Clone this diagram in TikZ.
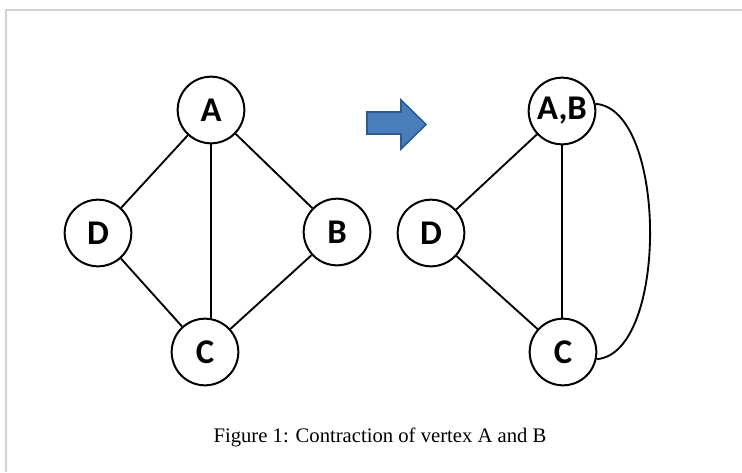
\documentclass[tikz,border=0pt]{standalone}
\usepackage{fontspec}
\setmainfont{Liberation Serif}
\newfontfamily\vertexfont{Carlito}
\definecolor{framegray}{HTML}{D2D2D2}
\definecolor{arrowfill}{HTML}{4A7EBB}
\definecolor{arrowedge}{HTML}{2F5A8F}
\tikzset{
  vertex/.style={circle, draw=black, line width=1.5pt, minimum size=50pt,
    inner sep=0pt, fill=white, font=\vertexfont\bfseries\fontsize{26}{26}\selectfont},
  edge/.style={draw=black, line width=1.4pt},
}
\begin{document}
\begin{tikzpicture}[x=0.75pt,y=-0.75pt]
  \useasboundingbox (0,0) rectangle (742,472);
  \fill[white] (0,0) rectangle (742,472);
  % frame lines at the top and left
  \draw[framegray, line width=1.5pt] (6,472) -- (6,10) -- (742,10);

  % graph before contraction
  \node[vertex] (A) at (211,110) {A};
  \node[vertex] (D) at (98,233) {D};
  \node[vertex] (B) at (337,232) {B};
  \node[vertex] (C) at (205,352) {C};
  \draw[edge] (A) -- (D);
  \draw[edge] (A) -- (B);
  \draw[edge] (A.south) -- (C.north -| A.south);
  \draw[edge] (D) -- (C);
  \draw[edge] (B) -- (C);

  % block arrow
  \draw[draw=arrowedge, fill=arrowfill, line width=1.2pt, line join=miter]
    (367,112) -- (401,112) -- (401,100) -- (426,124.5) -- (401,149)
    -- (401,134) -- (367,134) -- cycle;

  % graph after contraction
  \node[vertex] (AB) at (562,111) {A,B};
  \node[vertex] (D2) at (431,233) {D};
  \node[vertex] (C2) at (563,352) {C};
  \draw[edge] (AB) -- (D2);
  \draw[edge] (AB.south) -- (C2.north -| AB.south);
  \draw[edge] (D2) -- (C2);
  \draw[edge] (AB.12) .. controls +(72,5) and +(72,-5) .. (C2.-12);

  % caption
  \node[font=\fontsize{15.5}{18}\selectfont] (cap) at (380,437)
    {Figure 1: Contraction of vertex A and B};
\end{tikzpicture}
\end{document}
